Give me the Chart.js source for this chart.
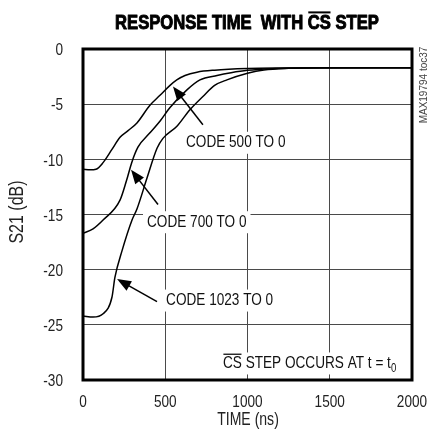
<!DOCTYPE html>
<html>
<head>
<meta charset="utf-8">
<script src="https://cdn.jsdelivr.net/npm/chart.js@4.4.1/dist/chart.umd.min.js"></script>
<style>
  html, body { margin: 0; padding: 0; background: #fff; }
  #wrap { width: 430px; height: 438px; }
</style>
</head>
<body>
<div id="wrap"><canvas id="chart" width="430" height="438"></canvas></div>
<script>
// ─── Data ───────────────────────────────────────────
const X_TICKS = [0, 500, 1000, 1500, 2000];
const Y_TICKS = [0, -5, -10, -15, -20, -25, -30];

const T_500  = [0, 43, 79, 122, 176, 225, 274, 328, 407, 468, 529, 570, 620, 693, 800, 1000, 1200, 1500, 2000];
const S_500  = [-10.9, -10.95, -10.9, -10.3, -9.1, -8.0, -7.4, -6.7, -5.1, -4.2, -3.3, -2.8, -2.4, -2.1, -1.92, -1.77, -1.72, -1.7, -1.7];

const T_700  = [0, 61, 122, 225, 265, 296, 334, 407, 470, 529, 632, 711, 815, 900, 1000, 1150, 1350, 2000];
const S_700  = [-16.7, -16.3, -15.5, -13.7, -11.9, -10.3, -8.9, -7.6, -6.5, -5.3, -3.7, -2.8, -2.4, -2.15, -1.93, -1.78, -1.72, -1.7];

const T_1023 = [0, 61, 122, 176, 194, 237, 298, 328, 389, 450, 486, 571, 650, 729, 800, 875, 1000, 1100, 1250, 1450, 2000];
const S_1023 = [-24.2, -24.3, -24.0, -22.5, -20.7, -18.3, -15.5, -14.5, -11.7, -9.0, -8.1, -7.0, -5.5, -4.3, -3.3, -2.8, -2.2, -1.9, -1.75, -1.7, -1.7];

// ─── Callouts (data coords) ─────────────────────────
const LABELS = [
  { x: 626, y: -8.5,  runs: [{ t: 'CODE 500 TO 0' }] },
  { x: 389, y: -15.7, runs: [{ t: 'CODE 700 TO 0' }] },
  { x: 505, y: -22.8, runs: [{ t: 'CODE 1023 TO 0' }] },
  { x: 851, y: -28.5, runs: [{ t: 'CS', over: true }, { t: ' STEP OCCURS AT t = t' }, { t: '0', sub: true }] },
];
const ARROWS = [
  { from: [729, -6.86], to: [547, -3.4] },
  { from: [456, -14.1], to: [292, -10.95] },
  { from: [450, -22.9], to: [207, -20.85] },
];

// ─── Helpers ────────────────────────────────────────
const FAM = '"Liberation Sans", Arial, sans-serif';
const SQ = 0.8;   // horizontal squeeze to mimic a condensed face
const pts = (xs, ys) => xs.map((x, i) => ({ x, y: ys[i] }));

function runsWidth(ctx, runs, size, weight, sx) {
  let w = 0;
  runs.forEach(r => {
    ctx.font = `${weight} ${r.sub ? Math.round(size * 0.7) : size}px ${FAM}`;
    w += ctx.measureText(r.t).width;
  });
  return w * sx;
}

function drawRuns(ctx, runs, x, y, size, weight, sx, heavy) {
  ctx.save();
  ctx.translate(x, y);
  ctx.scale(sx, 1);
  ctx.textBaseline = 'middle';
  ctx.textAlign = 'left';
  if (heavy) { ctx.strokeStyle = ctx.fillStyle; ctx.lineWidth = heavy; ctx.lineJoin = 'round'; }
  let cx = 0;
  runs.forEach(r => {
    const fs = r.sub ? Math.round(size * 0.7) : size;
    ctx.font = `${weight} ${fs}px ${FAM}`;
    const w = ctx.measureText(r.t).width;
    ctx.fillText(r.t, cx, r.sub ? size * 0.3 : 0);
    if (heavy) ctx.strokeText(r.t, cx, 0);
    if (r.over) ctx.fillRect(cx + 0.5, -size * 0.58, w - 1, weight === 'bold' ? 2 : 1.3);
    cx += w;
  });
  ctx.restore();
}

function squeezed(ctx, text, x, y, size, align, sx, rot) {
  ctx.save();
  ctx.translate(x, y);
  if (rot) ctx.rotate(rot);
  ctx.scale(sx, 1);
  ctx.font = `${size}px ${FAM}`;
  ctx.textAlign = align;
  ctx.textBaseline = 'middle';
  ctx.fillText(text, 0, 0);
  ctx.restore();
}

function arrow(ctx, x1, y1, x2, y2) {
  const a = Math.atan2(y2 - y1, x2 - x1);
  const len = 14, hw = 5.5;
  ctx.beginPath();
  ctx.moveTo(x1, y1);
  ctx.lineTo(x2 - Math.cos(a) * len * 0.8, y2 - Math.sin(a) * len * 0.8);
  ctx.lineWidth = 1.5;
  ctx.stroke();
  ctx.beginPath();
  ctx.moveTo(x2, y2);
  ctx.lineTo(x2 - Math.cos(a) * len + Math.sin(a) * hw, y2 - Math.sin(a) * len - Math.cos(a) * hw);
  ctx.lineTo(x2 - Math.cos(a) * len - Math.sin(a) * hw, y2 - Math.sin(a) * len + Math.cos(a) * hw);
  ctx.closePath();
  ctx.fill();
}

// ─── Decorations plugin ─────────────────────────────
const decor = {
  id: 'decor',
  beforeDatasetsDraw(chart) {
    const { ctx, scales: { x, y } } = chart;
    ctx.save();
    LABELS.forEach(l => {
      const px = x.getPixelForValue(l.x), py = y.getPixelForValue(l.y);
      const w = runsWidth(ctx, l.runs, 17, 'normal', SQ);
      ctx.fillStyle = '#fff';
      ctx.fillRect(px - 4, py - 11, w + 8, 22);
      ctx.fillStyle = '#111';
      drawRuns(ctx, l.runs, px, py, 17, 'normal', SQ);
    });
    ctx.restore();
  },
  afterDatasetsDraw(chart) {
    const { ctx, chartArea: a, scales: { x, y } } = chart;
    ctx.save();
    ctx.fillStyle = '#000';
    ctx.strokeStyle = '#000';
    ARROWS.forEach(ar => {
      arrow(ctx, x.getPixelForValue(ar.from[0]), y.getPixelForValue(ar.from[1]),
                 x.getPixelForValue(ar.to[0]), y.getPixelForValue(ar.to[1]));
    });
    // frame
    ctx.lineWidth = 3;
    ctx.strokeRect(a.left, a.top, a.right - a.left, a.bottom - a.top);

    // tick labels
    ctx.fillStyle = '#222';
    X_TICKS.forEach(v => squeezed(ctx, String(v), x.getPixelForValue(v), a.bottom + 22, 17, 'center', SQ));
    Y_TICKS.forEach(v => squeezed(ctx, String(v), a.left - 20, y.getPixelForValue(v) + 1.5, 17, 'right', SQ));

    // title
    ctx.fillStyle = '#000';
    const title = [{ t: 'RESPONSE TIME  WITH ' }, { t: 'CS', over: true }, { t: ' STEP' }];
    const tw = runsWidth(ctx, title, 20, 'bold', 0.83);
    drawRuns(ctx, title, 247 - tw / 2, 23, 20, 'bold', 0.83, 1);

    // axis titles
    ctx.fillStyle = '#222';
    squeezed(ctx, 'TIME (ns)', 248, 420, 18, 'center', 0.78);
    squeezed(ctx, 'S21 (dB)', 17, 212, 20, 'center', 0.8, -Math.PI / 2);

    // part code
    ctx.fillStyle = '#444';
    squeezed(ctx, 'MAX19794 toc37', 424, 85, 10, 'center', 1, -Math.PI / 2);
    ctx.restore();
  }
};

// ─── Chart ──────────────────────────────────────────
const lineSet = (data) => ({
  data, borderColor: '#000', borderWidth: 1.5, pointRadius: 0,
  cubicInterpolationMode: 'monotone', fill: false,
});

new Chart(document.getElementById('chart'), {
  type: 'line',
  data: {
    datasets: [
      lineSet(pts(T_500, S_500)),
      lineSet(pts(T_700, S_700)),
      lineSet(pts(T_1023, S_1023)),
    ]
  },
  options: {
    responsive: false,
    animation: false,
    events: [],
    layout: { padding: { top: 49, right: 18, left: 0, bottom: 0 } },
    plugins: { legend: { display: false }, tooltip: { enabled: false } },
    scales: {
      x: {
        type: 'linear', min: 0, max: 2000,
        afterBuildTicks: s => { s.ticks = X_TICKS.map(v => ({ value: v })); },
        afterFit: s => { s.height = 58; },
        grid: { color: '#4a4a4a', lineWidth: 1, drawTicks: false },
        border: { display: false },
        ticks: { display: false },
      },
      y: {
        type: 'linear', min: -30, max: 0,
        afterBuildTicks: s => { s.ticks = Y_TICKS.map(v => ({ value: v })); },
        afterFit: s => { s.width = 83; },
        grid: { color: '#4a4a4a', lineWidth: 1, drawTicks: false },
        border: { display: false },
        ticks: { display: false },
      }
    }
  },
  plugins: [decor]
});
</script>
</body>
</html>
